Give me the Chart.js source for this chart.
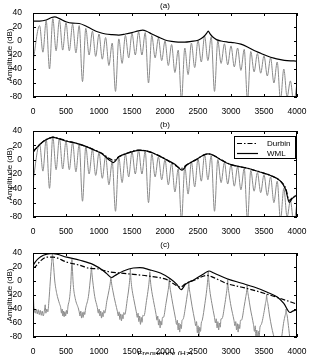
<!DOCTYPE html>
<html>
<head>
<meta charset="utf-8">
<script src="https://cdn.jsdelivr.net/npm/chart.js@4.4.1/dist/chart.umd.min.js"></script>
<style>
html, body { margin: 0; padding: 0; width: 311px; height: 355px; overflow: hidden; background: #fff; }
canvas { position: absolute; left: 0; }
.ttl { position: absolute; left: 0; width: 330px; text-align: center; font: 8px "Liberation Sans", Arial, sans-serif; line-height: 10px; color: #000; }
</style>
</head>
<body>
<canvas id="chartA" width="311" height="115" style="top:0"></canvas>
<canvas id="chartB" width="311" height="117" style="top:118px"></canvas>
<canvas id="chartC" width="311" height="130" style="top:236px"></canvas>
<div class="ttl" style="top:1px">(a)</div>
<div class="ttl" style="top:120px">(b)</div>
<div class="ttl" style="top:240px">(c)</div>
<script>
// axis ticks
var xTicks = [0, 500, 1000, 1500, 2000, 2500, 3000, 3500, 4000];
var yTicks = [-80, -60, -40, -20, 0, 20, 40];

// gray harmonic spectrum of (a) and (b): [Hz, dB]
var grayAB = [[0,-30],[100,22],[150,-16],[200,29],[250,-40],[300,32],[350,-14],[400,30],[450,-13],[500,26],
  [550,-14],[600,24],[650,-17],[700,22],[750,-58],[800,18],[850,-20],[900,14],[950,-22],[1000,10],
  [1050,-26],[1100,5],[1150,-35],[1200,-3],[1250,-72],[1300,3],[1350,-32],[1400,8],[1450,-24],[1500,11],
  [1550,-20],[1600,13],[1650,-20],[1700,12],[1750,-60],[1800,8],[1850,-24],[1900,4],[1950,-28],[2000,0],
  [2050,-35],[2100,-5],[2150,-45],[2200,-13],[2250,-85],[2300,-10],[2350,-48],[2400,-3],[2450,-38],[2500,1],
  [2550,-30],[2600,7],[2650,-28],[2700,6],[2750,-72],[2800,0],[2850,-32],[2900,-4],[2950,-34],[3000,-7],
  [3050,-37],[3100,-10],[3150,-42],[3200,-12],[3250,-85],[3300,-15],[3350,-44],[3400,-18],[3450,-46],[3500,-21],
  [3550,-50],[3600,-24],[3650,-60],[3700,-30],[3750,-85],[3800,-40],[3850,-80],[3900,-57],[3950,-88],[4000,-60]];

// envelope of (a)
var envA = [[0,28.5],[100,28.5],[200,30],[280,33.5],[330,34.5],[400,32],[500,27.5],[600,25.5],[700,25],[800,21.5],
  [900,16.5],[1000,12.5],[1100,10],[1200,9],[1300,8.5],[1400,10],[1500,12],[1600,14.5],[1660,15.5],[1720,14],
  [1800,10],[1900,5.5],[2000,1.5],[2100,-0.5],[2200,-1.5],[2300,-1.5],[2400,-0.5],[2500,1],[2550,3.5],[2600,7.5],
  [2630,11],[2655,14],[2680,10.5],[2720,6],[2780,2],[2850,0],[2950,-1.5],[3050,-2.5],[3150,-4.5],[3250,-8.5],
  [3350,-13.5],[3450,-17.5],[3550,-21.5],[3650,-24.5],[3750,-26.5],[3850,-28],[3950,-28.5],[4000,-29]];

// envelopes of (b)
var durbinB = [[0,12],[50,16],[150,25],[250,30],[300,31.5],[400,29.5],[500,26.5],[650,23],[800,18.5],[950,13],
  [1050,8.5],[1150,2],[1220,-1],[1300,4],[1450,10],[1600,13.5],[1700,12.5],[1850,8],[2000,1],[2150,-7.5],
  [2250,-12],[2330,-7],[2450,-1],[2600,7],[2650,8],[2700,7.5],[2850,0],[3000,-7],[3250,-12],[3450,-17.5],
  [3600,-22],[3750,-30],[3830,-40],[3880,-57],[3930,-53],[4000,-49]];
var wmlB = [[0,10],[50,16],[150,25],[250,30],[300,31],[400,29],[500,26],[650,23],[800,18.5],[950,12.5],
  [1050,8],[1150,0],[1218,-4],[1300,4],[1450,9.5],[1600,13],[1700,12.5],[1850,8],[2000,1],[2150,-6.5],
  [2259,-14.5],[2330,-7.5],[2450,-1],[2600,7],[2650,8],[2700,7.5],[2850,-0.5],[3000,-7],[3250,-12],[3450,-17.5],
  [3600,-22],[3750,-30],[3830,-42],[3883,-59.5],[3930,-54],[4000,-49]];

// gray spectrum of (c), with the noisy valley floors
var grayC = [[0,22],[8,-25],[20,-40],[35,-46],[50,-40],[65,-47],[80,-41],[95,-48],[110,-42],[125,-49],
  [140,-43],[155,-50],[170,-44],[185,-34],[195,-46],[210,-40],[225,-44],
  [240,-30],[262,0],[282,26],[295,38],[308,26],[330,0],[360,-18],[400,-32],
  [420,-38],[432,-46],[442,-40],[452,-50],[462,-43],[472,-51],[482,-44],[494,-50],[506,-42],[518,-47],[530,-36],
  [552,-26],[572,-5],[584,20],[590,31],[596,20],[610,-5],[640,-25],[690,-40],
  [700,-44],[712,-50],[724,-43],[736,-53],[748,-45],[760,-52],[772,-44],[784,-48],[796,-40],
  [840,-22],[866,0],[878,12],[885,21],[892,12],[905,0],[935,-22],[975,-38],
  [990,-46],[1002,-40],[1014,-50],[1026,-43],[1038,-53],[1050,-45],[1062,-51],[1074,-42],[1086,-46],
  [1120,-28],[1150,-14],[1170,-3],[1180,5],[1190,-3],[1210,-14],[1250,-32],[1280,-44],
  [1292,-50],[1304,-44],[1316,-55],[1328,-47],[1340,-57],[1352,-48],[1364,-54],[1376,-45],[1390,-48],
  [1430,-25],[1455,-8],[1468,5],[1475,17],[1482,5],[1495,-8],[1525,-25],[1565,-44],
  [1580,-52],[1592,-46],[1604,-58],[1616,-50],[1628,-62],[1640,-52],[1652,-59],[1664,-49],[1680,-50],
  [1720,-28],[1748,-10],[1762,2],[1770,13],[1778,2],[1792,-10],[1825,-28],[1865,-48],
  [1878,-56],[1890,-50],[1902,-63],[1914,-55],[1926,-67],[1938,-57],[1950,-63],[1962,-52],[1976,-52],
  [2015,-32],[2043,-16],[2057,-7],[2065,3],[2073,-7],[2087,-16],[2120,-34],[2160,-54],
  [2175,-62],[2187,-56],[2199,-70],[2211,-60],[2223,-73],[2235,-62],[2247,-68],[2259,-56],[2272,-55],
  [2315,-34],[2340,-18],[2353,-10],[2360,-2],[2367,-10],[2380,-18],[2410,-36],[2450,-56],
  [2466,-64],[2478,-58],[2490,-74],[2502,-64],[2514,-79],[2526,-66],[2538,-72],[2550,-60],[2565,-56],
  [2605,-32],[2633,-12],[2647,2],[2655,14],[2663,2],[2677,-12],[2710,-32],[2750,-52],
  [2765,-60],[2777,-54],[2789,-67],[2801,-58],[2813,-70],[2825,-60],[2837,-66],[2849,-54],[2862,-54],
  [2905,-34],[2930,-18],[2943,-8],[2950,2],[2957,-8],[2970,-18],[3000,-36],[3045,-56],
  [3060,-64],[3072,-58],[3084,-70],[3096,-61],[3108,-73],[3120,-62],[3132,-68],[3144,-56],[3158,-56],
  [3200,-36],[3225,-22],[3238,-14],[3245,-6],[3252,-14],[3265,-22],[3295,-40],[3340,-62],
  [3355,-72],[3367,-64],[3379,-80],[3391,-70],[3403,-85],[3415,-72],[3427,-80],[3439,-66],[3460,-62],
  [3505,-42],[3522,-32],[3534,-26],[3540,-19],[3546,-26],[3558,-32],[3585,-50],[3640,-76],[3700,-92],[3760,-84],
  [3800,-58],[3818,-50],[3830,-45],[3835,-40],[3840,-45],[3852,-50],[3875,-68],[3910,-92],[3960,-95],[4000,-95]];

// envelopes of (c)
var wmlC = [[0,22],[25,26],[80,32],[157,36.7],[258,39],[308,39],[510,34],[712,29.6],[914,23.4],[1060,15],
  [1116,10.5],[1193,5],[1245,8],[1370,14.3],[1520,18.6],[1620,19],[1770,16],[1930,11.4],[2080,3.3],[2180,-4.8],
  [2244,-12.4],[2310,-4.8],[2440,1.9],[2590,10.5],[2665,14.3],[2740,11.4],[2940,3.3],[3150,-2.9],[3350,-8.6],[3550,-16],
  [3700,-23],[3800,-32],[3895,-45],[3935,-43],[4000,-41]];
var durbinC = [[0,19],[30,20],[106,28],[207,34],[308,34],[510,27],[712,22.4],[864,18],[960,17.6],[1170,12.8],
  [1320,11.4],[1520,9.5],[1780,6.7],[2030,1.9],[2130,-3.8],[2234,-8.6],[2310,-3.8],[2440,1],[2640,8],[2740,4.8],
  [2940,-3.8],[3150,-8.6],[3350,-13.3],[3550,-19],[3750,-25],[4000,-33]];

var fontSmall = { family: '"Liberation Sans", Arial, sans-serif', size: 8 };
var fontTick = { family: '"Liberation Sans", Arial, sans-serif', size: 8.5 };
var GRAY = '#8a8a8a';

function pts(arr) {
    return arr.map(function (p) { return { x: p[0], y: p[1] }; });
}

function line(data, color, width, dash, order) {
    return {
        data: pts(data), borderColor: color, borderWidth: width, borderDash: dash || [],
        pointRadius: 0, fill: false, cubicInterpolationMode: 'monotone', order: order
    };
}

// box with inward ticks on all four sides
var frameTicks = {
    id: 'frameTicks',
    afterDatasetsDraw: function (chart) {
        var ctx = chart.ctx, a = chart.chartArea, x = chart.scales.x, y = chart.scales.y;
        ctx.save();
        ctx.strokeStyle = '#000';
        ctx.lineWidth = 1;
        ctx.strokeRect(Math.round(a.left) + 0.5, Math.round(a.top) + 0.5,
            Math.round(a.right - a.left) - 1, Math.round(a.bottom - a.top) - 1);
        ctx.beginPath();
        x.ticks.forEach(function (t) {
            var px = Math.round(x.getPixelForValue(t.value)) + 0.5;
            ctx.moveTo(px, a.bottom); ctx.lineTo(px, a.bottom - 3);
            ctx.moveTo(px, a.top); ctx.lineTo(px, a.top + 3);
        });
        y.ticks.forEach(function (t) {
            var py = Math.round(y.getPixelForValue(t.value)) + 0.5;
            ctx.moveTo(a.left, py); ctx.lineTo(a.left + 3, py);
            ctx.moveTo(a.right, py); ctx.lineTo(a.right - 3, py);
        });
        ctx.stroke();
        ctx.restore();
    }
};

// legend box of (b)
var legendB = {
    id: 'legendB',
    afterDraw: function (chart) {
        var ctx = chart.ctx, a = chart.chartArea;
        var bx = a.right - 63, by = a.top + 5, bw = 61, bh = 22;
        ctx.save();
        ctx.fillStyle = '#fff';
        ctx.fillRect(bx, by, bw, bh);
        ctx.strokeStyle = '#000';
        ctx.lineWidth = 1;
        ctx.strokeRect(bx + 0.5, by + 0.5, bw, bh);
        var rows = [['Durbin', [5, 2, 1.5, 2]], ['WML', []]];
        rows.forEach(function (r, i) {
            var ly = by + 7.5 + i * 10;
            ctx.setLineDash(r[1]);
            ctx.lineWidth = 1.2;
            ctx.beginPath();
            ctx.moveTo(bx + 3, ly); ctx.lineTo(bx + 24, ly);
            ctx.stroke();
            ctx.setLineDash([]);
            ctx.fillStyle = '#000';
            ctx.font = '8px "Liberation Sans", Arial, sans-serif';
            ctx.textBaseline = 'middle';
            ctx.fillText(r[0], bx + 33, ly);
        });
        ctx.restore();
    }
};

function plain(v) { return String(v); }

function makeChart(id, datasets, padTop, xHeight, showX, extraPlugins) {
    return new Chart(document.getElementById(id).getContext('2d'), {
        type: 'line',
        data: { datasets: datasets },
        options: {
            responsive: false, animation: false, devicePixelRatio: 1, events: [],
            layout: { padding: { top: padTop, right: 14, left: 0, bottom: 0 } },
            plugins: { legend: { display: false }, tooltip: { enabled: false } },
            scales: {
                x: {
                    type: 'linear', min: 0, max: 4000,
                    afterBuildTicks: function (s) { s.ticks = xTicks.map(function (v) { return { value: v }; }); },
                    afterFit: function (s) { s.height = xHeight; },
                    grid: { display: false }, border: { display: false },
                    ticks: { font: fontTick, color: '#000', padding: 2, autoSkip: false, maxRotation: 0, callback: plain },
                    title: { display: showX, text: 'Frequency (Hz)', font: fontSmall, color: '#000', padding: { top: 0, bottom: 7.5 } }
                },
                y: {
                    min: -80, max: 40,
                    afterBuildTicks: function (s) { s.ticks = yTicks.map(function (v) { return { value: v }; }); },
                    afterFit: function (s) { s.width = 33; },
                    grid: { display: false }, border: { display: false },
                    ticks: { font: fontTick, color: '#000', padding: 3, autoSkip: false, callback: plain },
                    title: { display: true, text: 'Amplitude (dB)', font: fontSmall, color: '#000', padding: { top: 5, bottom: 0 } }
                }
            }
        },
        plugins: [frameTicks].concat(extraPlugins || [])
    });
}

makeChart('chartA', [
    line(grayAB, GRAY, 1, null, 2),
    line(envA, '#000', 1.2, null, 1)
], 13, 18, false);

makeChart('chartB', [
    line(grayAB, GRAY, 1, null, 3),
    line(durbinB, '#000', 1.2, [5, 2, 1.5, 2], 2),
    line(wmlB, '#000', 1.2, null, 1)
], 13, 18, false, [legendB]);

makeChart('chartC', [
    line(grayC, GRAY, 1, null, 3),
    line(durbinC, '#000', 1.2, [5, 2, 1.5, 2], 2),
    line(wmlC, '#000', 1.2, null, 1)
], 17, 29, true);
</script>
</body>
</html>
